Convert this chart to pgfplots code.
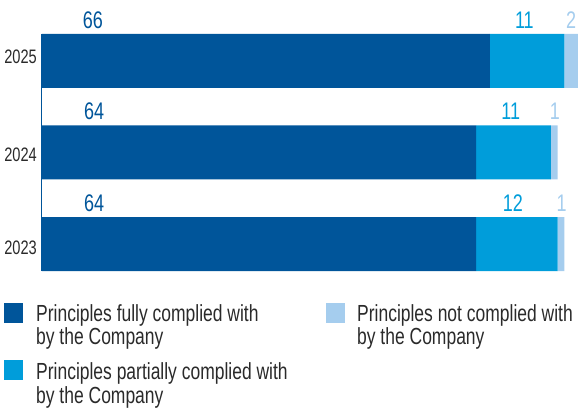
\documentclass[border=0pt]{standalone}
\usepackage{fontspec}
\setmainfont{Liberation Sans}[FakeStretch=0.75]
\usepackage{pgfplots}
\pgfplotsset{compat=1.18}
\definecolor{cA}{HTML}{00559A}
\definecolor{cB}{HTML}{009DDA}
\definecolor{cC}{HTML}{A5CDEE}
\definecolor{txt}{HTML}{2A2A2A}
\tikzset{vl/.style={anchor=base, inner sep=0pt, font=\fontsize{24}{24}\selectfont}}
\begin{document}
\begin{tikzpicture}
\useasboundingbox (0,0) rectangle (587pt,420pt);
\begin{axis}[
  at={(42pt,149pt)}, anchor=south west,
  scale only axis, width=536pt, height=237pt,
  xbar stacked, bar width=54pt,
  xmin=0, xmax=79, ymin=-0.295, ymax=2.295,
  clip=false,
  hide x axis,
  axis y line*=left,
  y axis line style={cA, line width=1pt},
  ytick={-0.044,0.970,2.047},
  yticklabels={2023,2024,2025},
  major tick length=0pt,
  yticklabel style={font=\fontsize{19.5}{19.5}\selectfont, text=txt, inner sep=0pt, xshift=-5pt},
]
\addplot[fill=cA, draw=none] coordinates {(64,0) (64,1) (66,2)};
\addplot[fill=cB, draw=none] coordinates {(12,0) (11,1) (11,2)};
\addplot[fill=cC, draw=none] coordinates {(1,0) (1,1) (2,2)};
\node[vl, text=cA] at (axis cs:7.5,2.36) {66};
\node[vl, text=cB] at (axis cs:71.1,2.36) {11};
\node[vl, text=cC] at (axis cs:78.0,2.36) {2};
\node[vl, text=cA] at (axis cs:7.7,1.36) {64};
\node[vl, text=cB] at (axis cs:69.1,1.36) {11};
\node[vl, text=cC] at (axis cs:75.6,1.36) {1};
\node[vl, text=cA] at (axis cs:7.7,0.36) {64};
\node[vl, text=cB] at (axis cs:69.4,0.36) {12};
\node[vl, text=cC] at (axis cs:76.6,0.36) {1};
\end{axis}
\begin{scope}[every node/.style={anchor=base west, inner sep=0pt, text=txt, font=\fontsize{23.3}{23.3}\selectfont}]
\fill[cA] (4pt,97pt) rectangle (23pt,117pt);
\node at (36pt,98.3pt) {Principles fully complied with};
\node at (36pt,75pt) {by the Company};
\fill[cB] (4pt,40pt) rectangle (23pt,60pt);
\node at (36pt,40.7pt) {Principles partially complied with};
\node at (36pt,16.7pt) {by the Company};
\fill[cC] (326pt,97pt) rectangle (345pt,117pt);
\node at (357pt,98.3pt) {Principles not complied with};
\node at (357pt,75pt) {by the Company};
\end{scope}
\end{tikzpicture}
\end{document}
